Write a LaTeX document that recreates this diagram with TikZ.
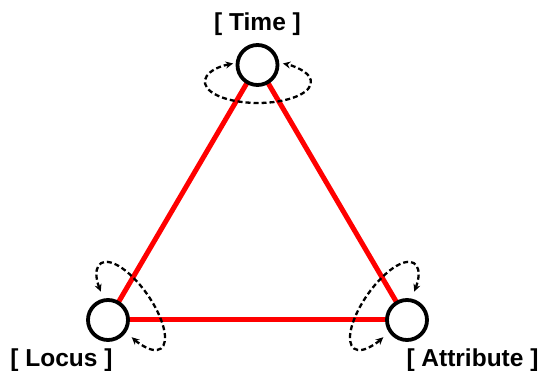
\documentclass[tikz,border=0pt]{standalone}
\usepackage{fontspec}
\setmainfont{Liberation Sans}
\usetikzlibrary{arrows.meta}
\begin{document}
\begin{tikzpicture}[x=1pt,y=1pt,
  vert/.style={circle, draw=black, line width=3.8pt, fill=white, minimum size=40pt, inner sep=0pt},
  edge/.style={draw=red, line width=5pt},
  selfloop/.style={draw=black, line width=2.3pt, dash pattern=on 5pt off 3pt,
    {Stealth[length=7.5pt,width=7pt]}-{Stealth[length=7.5pt,width=7pt]}},
  lbl/.style={font=\bfseries\fontsize{24.5}{24.5}\selectfont, inner sep=0pt}]
\useasboundingbox (0,0) rectangle (541,371);
\coordinate (t) at (257.5,306);
\coordinate (l) at (108,51);
\coordinate (a) at (407,51);
\draw[edge] (t) -- (l);
\draw[edge] (t) -- (a);
\draw[edge] (l) -- (a);
% self loops
\coordinate (tc) at (258,289);
\draw[selfloop] (tc) ++(118:53pt and 21pt) arc[start angle=118, end angle=422, x radius=53pt, y radius=21pt];
\begin{scope}[shift={(131,65)}, rotate=-55]
  \draw[selfloop] (236:52pt and 20pt) arc[start angle=236, end angle=-60, x radius=52pt, y radius=20pt];
\end{scope}
\begin{scope}[shift={(384,65)}, rotate=55]
  \draw[selfloop] (-56:52pt and 20pt) arc[start angle=-56, end angle=240, x radius=52pt, y radius=20pt];
\end{scope}
\node[vert] (T) at (t) {};
\node[vert] (L) at (l) {};
\node[vert] (A) at (a) {};
\node[lbl] (Tl) at (257.5,346.5) {[ Time ]};
\node[lbl] (Ll) at (61.5,11) {[ Locus ]};
\node[lbl] (Al) at (472.5,11) {[ Attribute ]};
\end{tikzpicture}
\end{document}
